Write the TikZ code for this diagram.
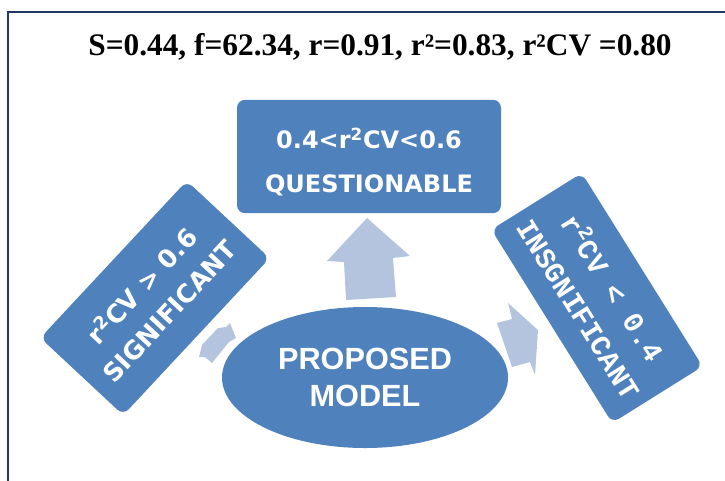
\documentclass[tikz,border=0pt]{standalone}
\usepackage{fontspec}
\setmainfont{Liberation Serif}
\newfontfamily\verdfont{DejaVu Sans}
\newfontfamily\arialfont{Liberation Sans}
\newfontfamily\courfont{Liberation Mono}
\usetikzlibrary{shapes.geometric}
\definecolor{boxblue}{RGB}{79,129,189}
\definecolor{arrowblue}{RGB}{180,196,222}
\definecolor{framenavy}{RGB}{31,56,100}

\begin{document}
\begin{tikzpicture}[x=0.75pt,y=-0.75pt]

    \tikzset{
      card/.style={
        fill=boxblue,
        rounded corners=6pt,
        text=white,
        align=center,
        inner sep=0pt,
      },
      cardtext/.style={
        text=white,
        align=center,
        inner sep=0pt,
      },
      blockarrow/.style={
        fill=arrowblue,
      },
    }
    \useasboundingbox (0,0) rectangle (725,480);
    \draw[framenavy, line width=1.5pt] (8,481) -- (8,12) -- (726,12);
    \node[anchor=base, font=\bfseries\fontsize{23.5}{28}\selectfont] (stats) at (380,55)
      {S=0.44, f=62.34, r=0.91, r²=0.83, r²CV =0.80};

    % block arrows out of the model
    \fill[blockarrow] (367,218) -- (410,256) -- (393,258) -- (396,297) -- (346,300) -- (344,262) -- (327,261) -- cycle;
    \fill[blockarrow] (230,323) -- (236,338) -- (229,342) -- (212,363) -- (205,357) -- (199,357) -- (202,345) -- (218,328) -- (226,327) -- cycle;
    \fill[blockarrow] (497,323) -- (512,319) -- (508,303) -- (538,330) -- (535,375) -- (530,362) -- (512,367) -- cycle;

    \node[card, minimum width=198pt, minimum height=85pt] (questionable) at (369,156.5) {};
    \node[cardtext, font=\verdfont\bfseries\fontsize{18}{33}\selectfont] (questionabletext)
      at ([yshift=-4pt]questionable.center)
      {0.4<r\textsuperscript{2}CV<0.6\\QUESTIONABLE};
    \node[card, rotate=47, minimum width=161pt, minimum height=85pt,
      font=\verdfont\bfseries\fontsize{19}{28}\selectfont] (significant) at (155,298)
      {r\textsuperscript{2}CV > 0.6\\SIGNIFICANT};
    \node[card, rotate=-58, minimum width=171pt, minimum height=80pt,
      font=\courfont\bfseries\fontsize{21.5}{30}\selectfont] (insignificant) at (597,298)
      {r\textsuperscript{2}CV < 0.4\\INSGNIFICANT};
    \node[card, ellipse, minimum width=214.5pt, minimum height=105.75pt,
      font=\arialfont\bfseries\fontsize{23}{27.75}\selectfont] (model) at (365,377.5)
      {PROPOSED\\MODEL};

\end{tikzpicture}
\end{document}
